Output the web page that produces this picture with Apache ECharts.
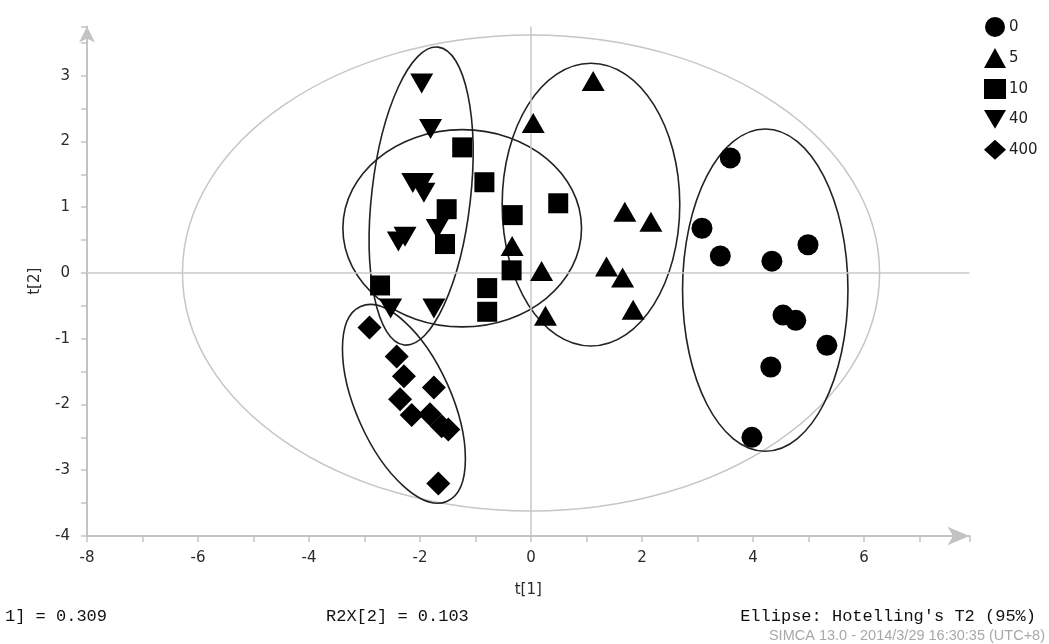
<!DOCTYPE html>
<html>
<head>
<meta charset="utf-8">
<script src="https://cdn.jsdelivr.net/npm/echarts@6/dist/echarts.min.js"></script>
<style>
html,body{margin:0;padding:0;background:#fff;}
#chart{width:1049px;height:644px;}
</style>
</head>
<body>
<div id="chart"></div>
<script>
// ---- data (t[1], t[2] scores per group) ----
const groupNames = ['0', '5', '10', '40', '400'];
const x0 = [3.59, 3.08, 3.41, 4.34, 4.99, 4.54, 4.77, 5.33, 4.32, 3.98];
const y0 = [1.75, 0.68, 0.26, 0.18, 0.43, -0.64, -0.72, -1.10, -1.43, -2.50];
const x5 = [1.12, 0.04, 1.69, 2.16, -0.34, 0.19, 1.36, 1.65, 1.84, 0.26];
const y5 = [2.92, 2.28, 0.93, 0.78, 0.41, 0.03, 0.10, -0.07, -0.56, -0.65];
const x10 = [-1.24, -0.84, -1.52, -0.33, 0.49, -1.55, -0.35, -2.72, -0.79, -0.79];
const y10 = [1.91, 1.38, 0.97, 0.88, 1.06, 0.44, 0.04, -0.19, -0.23, -0.59];
const x40 = [-1.97, -1.81, -2.13, -1.96, -1.93, -2.27, -2.39, -1.69, -2.53, -1.75];
const y40 = [2.88, 2.19, 1.37, 1.37, 1.22, 0.55, 0.48, 0.67, -0.54, -0.54];
const x400 = [-2.91, -2.42, -2.29, -1.75, -2.36, -2.15, -1.82, -1.61, -1.49, -1.67];
const y400 = [-0.83, -1.27, -1.57, -1.74, -1.92, -2.16, -2.15, -2.33, -2.38, -3.20];

// Ellipses: [centre t1, centre t2, semi-axis t1, semi-axis t2, rotation (deg, screen), kind]
const hotellingEllipse = [0, 0, 6.28, 3.62, 0, 0];
const groupEllipses = [
  [4.22, -0.26, 1.49, 2.45, 0, 1],
  [1.08, 1.04, 1.60, 2.15, 0, 1],
  [-1.24, 0.68, 2.15, 1.50, 0, 1],
  [-1.98, 1.17, 0.89, 2.28, -6.5, 1],
  [-2.29, -1.99, 0.86, 1.62, 24, 1]
];

const xTicks = { min: -8, max: 7.9, interval: 2 };
const yTicks = { min: -4, max: 3.75, interval: 1 };

const footLeft = '1] = 0.309';
const footMid = 'R2X[2] = 0.103';
const footRight = "Ellipse: Hotelling's T2 (95%)";
const footStamp = 'SIMCA 13.0 - 2014/3/29 16:30:35 (UTC+8)';

// ---- chart ----
const zip = (xs, ys) => xs.map((v, i) => [v, ys[i]]);
const downTri = 'path://M0,0L20,0L10,17Z';
const symbols = ['circle', 'triangle', 'rect', downTri, 'diamond'];
const sizes = [21, [23, 20], 20, [23, 20], 24];
const seriesData = [zip(x0, y0), zip(x5, y5), zip(x10, y10), zip(x40, y40), zip(x400, y400)];

const chart = echarts.init(document.getElementById('chart'), null, { renderer: 'canvas' });

const axisFont = { fontFamily: 'DejaVu Sans', fontSize: 15, color: '#2a2a2a' };

function ellipseRender(params, api) {
  const c = api.coord([api.value(0), api.value(1)]);
  const s = api.size([api.value(2), api.value(3)]);
  const kind = api.value(5);
  return {
    type: 'ellipse',
    x: c[0], y: c[1],
    rotation: api.value(4) * Math.PI / 180,
    shape: { cx: 0, cy: 0, rx: s[0], ry: s[1] },
    style: {
      fill: 'none',
      stroke: kind === 0 ? '#c6c6c6' : '#222',
      lineWidth: kind === 0 ? 1.5 : 1.6
    },
    silent: true
  };
}

const series = [
  {
    type: 'custom',
    name: 'hotelling',
    renderItem: ellipseRender,
    data: [hotellingEllipse],
    clip: false,
    z: 1,
    silent: true,
    markLine: {
      silent: true,
      symbol: ['none', 'none'],
      label: { show: false },
      lineStyle: { color: '#c8c8c8', width: 1.5, type: 'solid' },
      data: [{ xAxis: 0 }, { yAxis: 0 }],
      animation: false
    }
  },
  {
    type: 'custom',
    name: 'groups',
    renderItem: ellipseRender,
    data: groupEllipses,
    clip: false,
    z: 2,
    silent: true
  }
];
groupNames.forEach((n, i) => {
  series.push({
    type: 'scatter',
    name: n,
    data: seriesData[i],
    symbol: symbols[i],
    symbolSize: sizes[i],
    itemStyle: { color: '#000', borderWidth: 0, opacity: 1 },
    z: 5
  });
});

chart.setOption({
  animation: false,
  backgroundColor: '#fff',
  grid: { left: 87, right: 79.5, top: 26.4, bottom: 108, containLabel: false },
  legend: {
    orient: 'vertical',
    left: 979,
    top: 12,
    itemWidth: 22,
    itemHeight: 20,
    itemGap: 11,
    data: groupNames,
    itemStyle: { borderWidth: 0 },
    textStyle: { fontFamily: 'DejaVu Sans', fontSize: 15, color: '#222', padding: [0, 0, 0, -2] }
  },
  xAxis: {
    type: 'value',
    min: xTicks.min, max: xTicks.max, interval: xTicks.interval,
    name: 't[1]', nameLocation: 'middle', nameGap: 47,
    nameTextStyle: axisFont,
    axisLine: { onZero: false, lineStyle: { color: '#c3c3c3', width: 2 }, symbol: ['none', 'arrow'], symbolSize: [14, 22] },
    axisTick: { show: true, length: 6, lineStyle: { color: '#c3c3c3', width: 1.5 } },
    minorTick: { show: true, splitNumber: 2, length: 6, lineStyle: { color: '#c3c3c3', width: 1.5 } },
    axisLabel: Object.assign({ margin: 15, showMaxLabel: false }, axisFont),
    splitLine: { show: false }
  },
  yAxis: {
    type: 'value',
    min: yTicks.min, max: yTicks.max, interval: yTicks.interval,
    name: 't[2]', nameLocation: 'middle', nameGap: 44,
    nameTextStyle: axisFont,
    axisLine: { onZero: false, lineStyle: { color: '#c3c3c3', width: 2 }, symbol: ['none', 'arrow'], symbolSize: [12, 16] },
    axisTick: { show: true, length: 6, lineStyle: { color: '#c3c3c3', width: 1.5 } },
    minorTick: { show: true, splitNumber: 2, length: 6, lineStyle: { color: '#c3c3c3', width: 1.5 } },
    axisLabel: Object.assign({ margin: 17, showMaxLabel: false }, axisFont),
    splitLine: { show: false }
  },
  graphic: [
    { type: 'text', left: 5, top: 608, style: { text: footLeft, font: '17px "Liberation Mono"', fill: '#111' } },
    { type: 'text', left: 326, top: 608, style: { text: footMid, font: '17px "Liberation Mono"', fill: '#111' } },
    { type: 'text', right: 13, top: 608, style: { text: footRight, font: '17px "Liberation Mono"', fill: '#111' } },
    { type: 'text', right: 4, top: 628, style: { text: footStamp, font: '14.5px "Liberation Sans Narrow", "Liberation Sans", sans-serif', fill: '#a8a8a8' } }
  ],
  series: series
});
</script>
</body>
</html>
